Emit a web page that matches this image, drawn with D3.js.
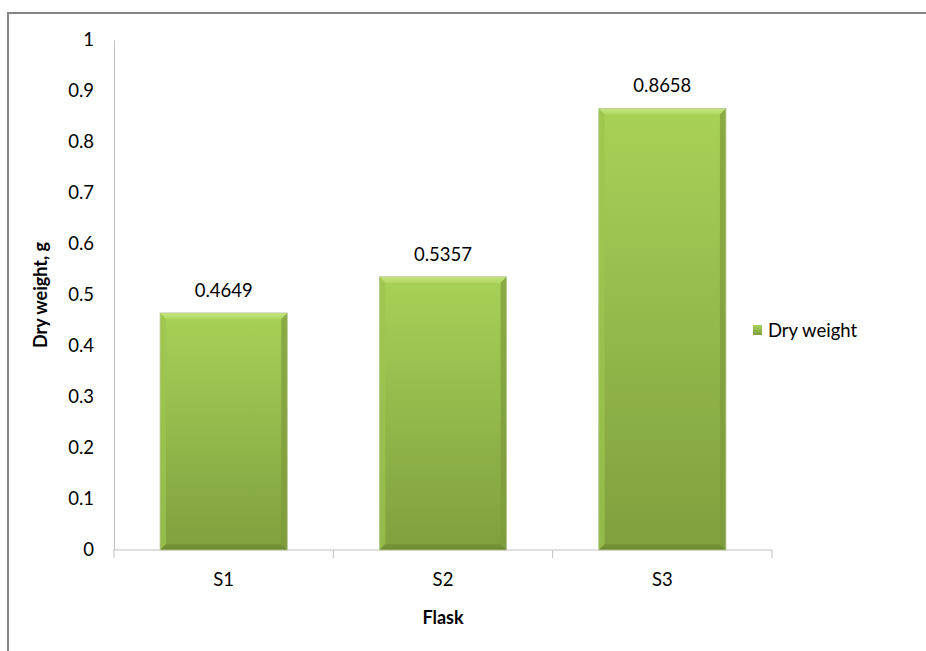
<!DOCTYPE html>
<html>
<head>
<meta charset="utf-8">
<script src="https://cdn.jsdelivr.net/npm/d3@7"></script>
<style>
  html, body { margin: 0; padding: 0; background: #fff; }
  svg { display: block; font-family: Lato, "Open Sans", sans-serif; }
</style>
</head>
<body>
<svg id="chart" width="926" height="651"></svg>
<script>
const categories = ["S1", "S2", "S3"];
const values = [0.4649, 0.5357, 0.8658];
const valueLabels = ["0.4649", "0.5357", "0.8658"];
const yTicks = [0, 0.1, 0.2, 0.3, 0.4, 0.5, 0.6, 0.7, 0.8, 0.9, 1];
const seriesName = "Dry weight";
const xTitle = "Flask";
const yTitle = "Dry weight, g";

const svg = d3.select("#chart");
const W = 926, H = 651;
const plot = { left: 114, right: 772, top: 40, bottom: 550 };
const FS = 18.5;

// outer border
svg.append("rect").attr("x", 8).attr("y", 13).attr("width", W).attr("height", H)
  .attr("fill", "#fff").attr("stroke", "#868686").attr("stroke-width", 2);

const x = d3.scaleBand().domain(categories).range([plot.left, plot.right])
  .paddingInner(0.42).paddingOuter(0.21);
const y = d3.scaleLinear().domain([0, 1]).range([plot.bottom, plot.top]);

const defs = svg.append("defs");
const g1 = defs.append("linearGradient").attr("id", "barGrad").attr("x1", 0).attr("y1", 0).attr("x2", 0).attr("y2", 1);
g1.append("stop").attr("offset", "0%").attr("stop-color", "#a8d158");
g1.append("stop").attr("offset", "100%").attr("stop-color", "#809f3e");
const gTop = defs.append("linearGradient").attr("id", "topGrad").attr("x1", 0).attr("y1", 0).attr("x2", 0).attr("y2", 1);
gTop.append("stop").attr("offset", "0%").attr("stop-color", "#c6e47e");
gTop.append("stop").attr("offset", "100%").attr("stop-color", "#b0d862");
const gBot = defs.append("linearGradient").attr("id", "botGrad").attr("x1", 0).attr("y1", 0).attr("x2", 0).attr("y2", 1);
gBot.append("stop").attr("offset", "0%").attr("stop-color", "#7a9838");
gBot.append("stop").attr("offset", "100%").attr("stop-color", "#6b8830");

// y axis
const yAxis = d3.axisLeft(y).tickValues(yTicks).tickSize(0).tickPadding(20)
  .tickFormat(d => d === 0 ? "0" : d === 1 ? "1" : d3.format(".1f")(d));
const yg = svg.append("g").attr("transform", `translate(${plot.left},0)`).call(yAxis);
yg.select(".domain").attr("stroke", "#bfbfbf");
yg.selectAll("text").attr("font-size", FS).attr("fill", "#000").attr("font-family", "Lato, sans-serif");

// x axis
const xAxis = d3.axisBottom(x).tickSize(0).tickPadding(23);
const xg = svg.append("g").attr("transform", `translate(0,${plot.bottom})`).call(xAxis);
xg.select(".domain").attr("stroke", "#bfbfbf").attr("d", `M${plot.left},0H${plot.right}`);
xg.selectAll("text").attr("font-size", FS).attr("fill", "#000").attr("font-family", "Lato, sans-serif");
// category boundary tick marks
const step = x.step();
const bounds = d3.range(categories.length + 1).map(i => plot.left + i * step);
xg.selectAll(".bnd").data(bounds).enter().append("line")
  .attr("x1", d => d).attr("x2", d => d).attr("y1", 0).attr("y2", 8)
  .attr("stroke", "#bfbfbf");

// bars with bevel
const bev = 6;
const bars = svg.append("g");
categories.forEach((c, i) => {
  const x0 = x(c), x1 = x(c) + x.bandwidth();
  const y0 = y(values[i]), y1 = y(0);
  const g = bars.append("g");
  g.append("rect").attr("x", x0).attr("y", y0).attr("width", x1 - x0).attr("height", y1 - y0)
    .attr("fill", "url(#barGrad)");
  g.append("polygon").attr("points", `${x0},${y0} ${x1},${y0} ${x1 - bev},${y0 + bev} ${x0 + bev},${y0 + bev}`)
    .attr("fill", "url(#topGrad)");
  g.append("polygon").attr("points", `${x0},${y0} ${x0 + bev},${y0 + bev} ${x0 + bev},${y1 - bev} ${x0},${y1}`)
    .attr("fill", "#9cc44f").attr("opacity", 0.7);
  g.append("polygon").attr("points", `${x1},${y0} ${x1 - bev},${y0 + bev} ${x1 - bev},${y1 - bev} ${x1},${y1}`)
    .attr("fill", "#7d9b3a").attr("opacity", 0.7);
  g.append("polygon").attr("points", `${x0},${y1} ${x0 + bev},${y1 - bev} ${x1 - bev},${y1 - bev} ${x1},${y1}`)
    .attr("fill", "url(#botGrad)");
  g.append("rect").attr("x", x0).attr("y", y0).attr("width", x1 - x0).attr("height", y1 - y0)
    .attr("fill", "none").attr("stroke", "#b9c99a").attr("stroke-width", 0.8);
  svg.append("text").attr("x", x0 + x.bandwidth() / 2).attr("y", y0 - 16)
    .attr("text-anchor", "middle").attr("font-size", FS).attr("fill", "#000")
    .text(valueLabels[i]);
});

// axis titles
svg.append("text").attr("x", (plot.left + plot.right) / 2).attr("y", 624)
  .attr("text-anchor", "middle").attr("font-size", 18).attr("font-weight", "bold").text(xTitle);
svg.append("text").attr("transform", `translate(47,${(plot.top + plot.bottom) / 2}) rotate(-90)`)
  .attr("text-anchor", "middle").attr("font-size", 18).attr("font-weight", "bold").text(yTitle);

// legend
const lg = svg.append("g").attr("transform", "translate(753,325)");
lg.append("rect").attr("width", 9).attr("height", 10).attr("fill", "url(#barGrad)");
lg.append("text").attr("x", 15).attr("y", 12).attr("font-size", FS).attr("fill", "#000").text(seriesName);
</script>
</body>
</html>
